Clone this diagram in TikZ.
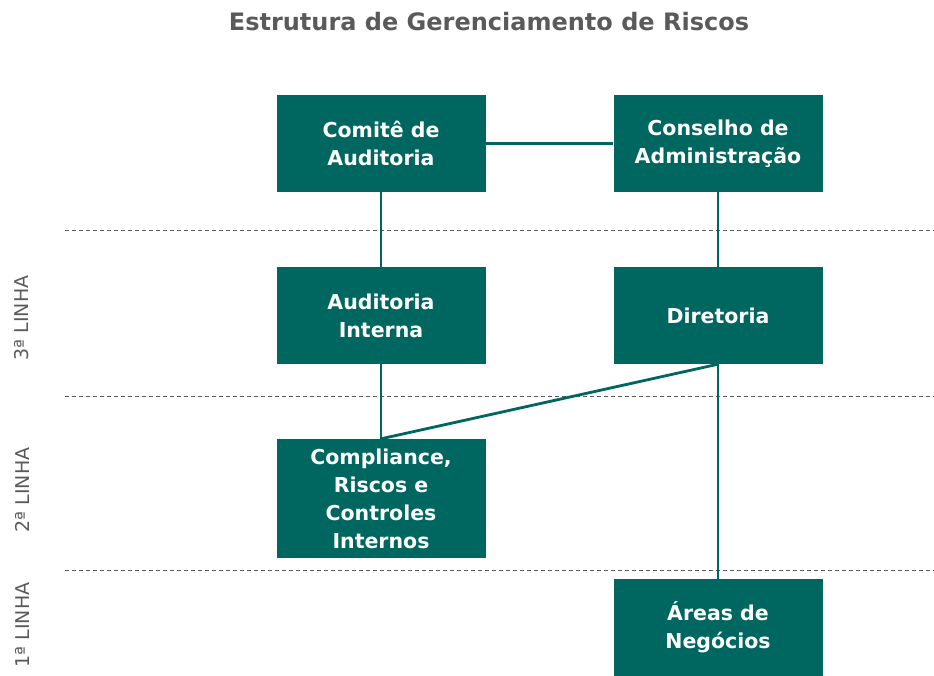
\documentclass[tikz,border=0pt]{standalone}
\usepackage{fontspec}
\setmainfont{DejaVu Sans}
\usepackage{xcolor}
\usepackage{tikz}
\definecolor{riskteal}{RGB}{0,102,96}
\definecolor{riskgray}{RGB}{90,90,90}
\tikzset{
  riskbox/.style={fill=riskteal, text=white, minimum width=209pt, minimum height=97pt,
    inner sep=2pt, align=center, font=\bfseries\fontsize{20.5}{28}\selectfont},
  risklink/.style={draw=riskteal, line width=2.8pt},
  riskline/.style={draw=riskgray, line width=0.8pt, dash pattern=on 4pt off 3pt},
  linelabel/.style={rotate=90, text=riskgray, font=\fontsize{19}{21}\selectfont}
}

\begin{document}
\begin{tikzpicture}[x=1pt, y=1pt]
		\useasboundingbox (0,0) rectangle (934,-675);
		\path (489,-22) node[text=riskgray, font=\bfseries\fontsize{24}{26}\selectfont] (title) {Estrutura de Gerenciamento de Riscos};

		% separadores
		\foreach \y in {-230,-396,-570}
			\draw[riskline] (65,\y) -- (934,\y);
		\path (22,-318) node[linelabel] (l3) {3ª LINHA};
		\path (22,-490) node[linelabel] (l2) {2ª LINHA};
		\path (22,-625) node[linelabel] (l1) {1ª LINHA};

		\path (381,-143.5) node[riskbox] (comite) {Comitê de\\Auditoria};
		\path (comite) ++(337pt,0) node[riskbox] (conselho) {Conselho de\\Administração};
		\path (comite) ++(0,-172pt) node[riskbox] (auditoria) {Auditoria\\Interna};
		\path (conselho) ++(0,-172pt) node[riskbox] (diretoria) {Diretoria};
		\path (auditoria) ++(0,-183pt) node[riskbox, minimum height=119pt] (compliance) {Compliance,\\Riscos e\\Controles\\Internos};
		\path (diretoria) ++(0,-312pt) node[riskbox] (areas) {Áreas de\\Negócios};

		\path [risklink] (comite) -- (conselho);
		\path [risklink] (comite) -- (auditoria);
		\path [risklink] (auditoria) -- (compliance);
		\path [risklink] (conselho) -- (diretoria);
		\path [risklink] (diretoria.south) -- (areas.north);
		\path [risklink] (diretoria.south) -- (compliance.north);
	\end{tikzpicture}
\end{document}
